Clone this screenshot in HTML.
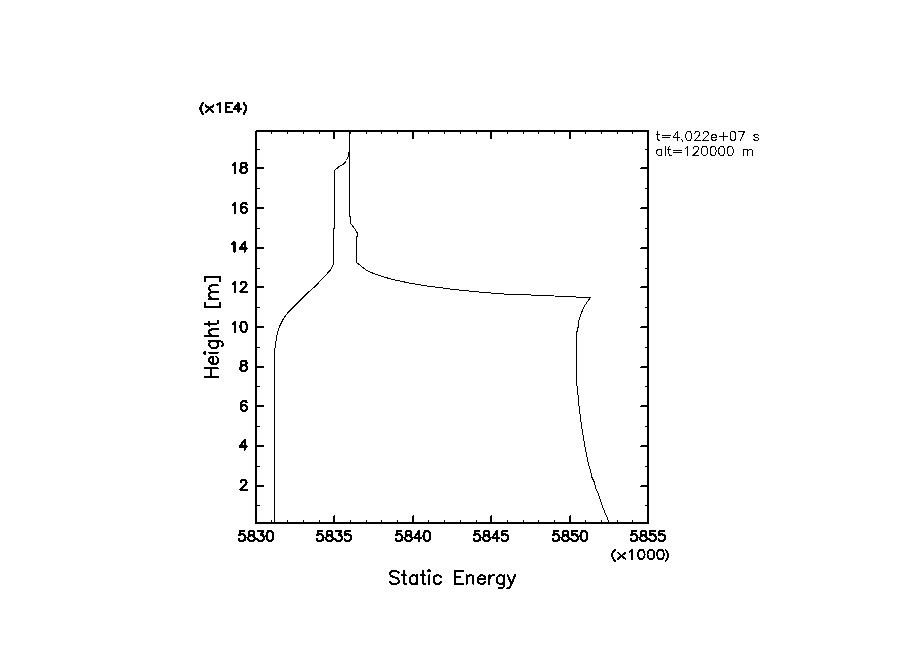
<!DOCTYPE html>
<html><head><meta charset="utf-8"><style>
html,body{margin:0;padding:0;background:#fff;}
body{width:904px;height:654px;overflow:hidden;position:relative;}
svg{position:absolute;left:0;top:0;}
text{font-family:"Liberation Sans",sans-serif;fill:#000;}
</style></head><body>
<svg width="904" height="654" viewBox="0 0 904 654">
<g fill="#000" shape-rendering="crispEdges">
<rect x="256" y="130" width="393" height="2"/>
<rect x="255" y="522" width="394" height="2"/>
<rect x="255" y="131" width="2" height="393"/>
<rect x="647" y="130" width="2" height="394"/>
<rect x="333" y="132" width="2" height="7"/>
<rect x="333" y="516" width="1" height="6"/>
<rect x="334" y="515" width="1" height="7"/>
<rect x="412" y="132" width="2" height="7"/>
<rect x="412" y="516" width="1" height="6"/>
<rect x="413" y="515" width="1" height="7"/>
<rect x="490" y="132" width="2" height="7"/>
<rect x="490" y="516" width="1" height="6"/>
<rect x="491" y="515" width="1" height="7"/>
<rect x="569" y="132" width="2" height="7"/>
<rect x="569" y="516" width="1" height="6"/>
<rect x="570" y="515" width="1" height="7"/>
<rect x="271" y="132" width="1" height="2"/>
<rect x="271" y="520" width="1" height="2"/>
<rect x="287" y="132" width="1" height="2"/>
<rect x="287" y="520" width="1" height="2"/>
<rect x="303" y="132" width="1" height="2"/>
<rect x="303" y="520" width="1" height="2"/>
<rect x="319" y="132" width="1" height="2"/>
<rect x="319" y="520" width="1" height="2"/>
<rect x="350" y="132" width="1" height="2"/>
<rect x="350" y="520" width="1" height="2"/>
<rect x="366" y="132" width="1" height="2"/>
<rect x="366" y="520" width="1" height="2"/>
<rect x="381" y="132" width="1" height="2"/>
<rect x="381" y="520" width="1" height="2"/>
<rect x="397" y="132" width="1" height="2"/>
<rect x="397" y="520" width="1" height="2"/>
<rect x="428" y="132" width="1" height="2"/>
<rect x="428" y="520" width="1" height="2"/>
<rect x="444" y="132" width="1" height="2"/>
<rect x="444" y="520" width="1" height="2"/>
<rect x="460" y="132" width="1" height="2"/>
<rect x="460" y="520" width="1" height="2"/>
<rect x="476" y="132" width="1" height="2"/>
<rect x="476" y="520" width="1" height="2"/>
<rect x="507" y="132" width="1" height="2"/>
<rect x="507" y="520" width="1" height="2"/>
<rect x="523" y="132" width="1" height="2"/>
<rect x="523" y="520" width="1" height="2"/>
<rect x="538" y="132" width="1" height="2"/>
<rect x="538" y="520" width="1" height="2"/>
<rect x="554" y="132" width="1" height="2"/>
<rect x="554" y="520" width="1" height="2"/>
<rect x="585" y="132" width="1" height="2"/>
<rect x="585" y="520" width="1" height="2"/>
<rect x="601" y="132" width="1" height="2"/>
<rect x="601" y="520" width="1" height="2"/>
<rect x="617" y="132" width="1" height="2"/>
<rect x="617" y="520" width="1" height="2"/>
<rect x="632" y="132" width="1" height="2"/>
<rect x="632" y="520" width="1" height="2"/>
<rect x="257" y="167" width="7" height="2"/>
<rect x="641" y="167" width="6" height="1"/>
<rect x="640" y="168" width="7" height="1"/>
<rect x="257" y="207" width="7" height="2"/>
<rect x="641" y="207" width="6" height="1"/>
<rect x="640" y="208" width="7" height="1"/>
<rect x="257" y="247" width="7" height="2"/>
<rect x="641" y="247" width="6" height="1"/>
<rect x="640" y="248" width="7" height="1"/>
<rect x="257" y="286" width="7" height="2"/>
<rect x="641" y="286" width="6" height="1"/>
<rect x="640" y="287" width="7" height="1"/>
<rect x="257" y="326" width="7" height="2"/>
<rect x="641" y="326" width="6" height="1"/>
<rect x="640" y="327" width="7" height="1"/>
<rect x="257" y="366" width="7" height="2"/>
<rect x="641" y="366" width="6" height="1"/>
<rect x="640" y="367" width="7" height="1"/>
<rect x="257" y="405" width="7" height="2"/>
<rect x="641" y="405" width="6" height="1"/>
<rect x="640" y="406" width="7" height="1"/>
<rect x="257" y="445" width="7" height="2"/>
<rect x="641" y="445" width="6" height="1"/>
<rect x="640" y="446" width="7" height="1"/>
<rect x="257" y="485" width="7" height="2"/>
<rect x="641" y="485" width="6" height="1"/>
<rect x="640" y="486" width="7" height="1"/>
<rect x="257" y="149" width="3" height="1"/>
<rect x="645" y="149" width="2" height="1"/>
<rect x="257" y="188" width="3" height="1"/>
<rect x="645" y="188" width="2" height="1"/>
<rect x="257" y="228" width="3" height="1"/>
<rect x="645" y="228" width="2" height="1"/>
<rect x="257" y="268" width="3" height="1"/>
<rect x="645" y="268" width="2" height="1"/>
<rect x="257" y="307" width="3" height="1"/>
<rect x="645" y="307" width="2" height="1"/>
<rect x="257" y="347" width="3" height="1"/>
<rect x="645" y="347" width="2" height="1"/>
<rect x="257" y="386" width="3" height="1"/>
<rect x="645" y="386" width="2" height="1"/>
<rect x="257" y="426" width="3" height="1"/>
<rect x="645" y="426" width="2" height="1"/>
<rect x="257" y="466" width="3" height="1"/>
<rect x="645" y="466" width="2" height="1"/>
<rect x="257" y="505" width="3" height="1"/>
<rect x="645" y="505" width="2" height="1"/>
</g>
<g fill="none" stroke="#000" stroke-width="1" shape-rendering="crispEdges">
<polyline points="274.5,523.0 274.5,352.0 275.5,345.0 276.5,337.0 277.6,332.0 279.7,326.1 282.6,320.3 285.5,315.6 289.7,310.6 299.4,300.9 309.5,291.2 315.3,286.2 325.7,275.2 330.5,270.0 332.5,266.5 333.5,264.0 333.5,228.5 334.5,228.0 334.5,170.5 338.0,167.5 340.7,165.5 343.0,164.5 345.0,162.5 346.5,160.5 347.5,158.0 348.5,156.5 348.5,153.0 349.5,152.0 349.5,131.0"/>
<polyline points="608.5,522.0 607.8,518.7 605.0,513.0 602.5,506.3 600.5,500.5 598.5,494.0 596.0,489.0 594.5,482.4 592.0,477.4 590.5,471.0 588.5,464.0 586.5,454.0 584.5,444.0 583.5,438.0 582.5,432.4 581.5,426.0 580.5,418.0 579.5,410.5 578.5,400.6 577.5,389.0 576.5,383.0 576.5,332.0 577.5,331.0 577.5,328.0 578.5,327.0 578.5,321.0 579.5,319.0 581.5,312.5 584.5,306.0 587.5,301.5 590.5,297.5 584.5,297.5 566.5,296.5 542.0,295.5 520.0,294.5 511.0,294.5 497.7,293.5 484.2,292.5 474.3,291.5 464.0,290.5 454.6,289.5 446.0,288.5 439.0,287.5 430.0,286.5 411.5,283.5 392.6,279.5 379.0,275.5 373.5,273.5 366.0,270.0 363.5,268.0 356.5,262.5 356.5,237.0 357.5,236.0 357.5,232.5 356.5,232.0 355.5,230.0 350.5,223.0 350.5,216.0 349.5,216.0 349.5,131.0"/>
</g>
<g fill="none" stroke="#000" stroke-linecap="round" stroke-linejoin="round" shape-rendering="crispEdges">
<path d="M232.64 164.81 L233.56 164.33 L234.94 162.90 L234.94 172.90 M242.76 162.90 L241.38 163.38 L240.92 164.33 L240.92 165.28 L241.38 166.24 L242.30 166.71 L244.14 167.19 L245.52 167.66 L246.44 168.62 L246.90 169.57 L246.90 171.00 L246.44 171.95 L245.98 172.42 L244.60 172.90 L242.76 172.90 L241.38 172.42 L240.92 171.95 L240.46 171.00 L240.46 169.57 L240.92 168.62 L241.84 167.66 L243.22 167.19 L245.06 166.71 L245.98 166.24 L246.44 165.28 L246.44 164.33 L245.98 163.38 L244.60 162.90 L242.76 162.90" stroke-width="2.2"/>
<path d="M232.64 204.81 L233.56 204.33 L234.94 202.90 L234.94 212.90 M246.44 204.33 L245.98 203.38 L244.60 202.90 L243.68 202.90 L242.30 203.38 L241.38 204.81 L240.92 207.19 L240.92 209.57 L241.38 211.47 L242.30 212.42 L243.68 212.90 L244.14 212.90 L245.52 212.42 L246.44 211.47 L246.90 210.04 L246.90 209.57 L246.44 208.14 L245.52 207.19 L244.14 206.71 L243.68 206.71 L242.30 207.19 L241.38 208.14 L240.92 209.57" stroke-width="2.2"/>
<path d="M232.18 243.81 L233.10 243.33 L234.48 241.90 L234.48 251.90 M244.60 241.90 L240.00 248.57 L246.90 248.57 M244.60 241.90 L244.60 251.90" stroke-width="2.2"/>
<path d="M232.64 283.81 L233.56 283.33 L234.94 281.90 L234.94 291.90 M240.92 284.28 L240.92 283.81 L241.38 282.86 L241.84 282.38 L242.76 281.90 L244.60 281.90 L245.52 282.38 L245.98 282.86 L246.44 283.81 L246.44 284.76 L245.98 285.71 L245.06 287.14 L240.46 291.90 L246.90 291.90" stroke-width="2.2"/>
<path d="M232.64 323.81 L233.56 323.33 L234.94 321.90 L234.94 331.90 M243.22 321.90 L241.84 322.38 L240.92 323.81 L240.46 326.19 L240.46 327.62 L240.92 330.00 L241.84 331.42 L243.22 331.90 L244.14 331.90 L245.52 331.42 L246.44 330.00 L246.90 327.62 L246.90 326.19 L246.44 323.81 L245.52 322.38 L244.14 321.90 L243.22 321.90" stroke-width="2.2"/>
<path d="M242.76 360.90 L241.38 361.38 L240.92 362.33 L240.92 363.28 L241.38 364.24 L242.30 364.71 L244.14 365.19 L245.52 365.66 L246.44 366.62 L246.90 367.57 L246.90 369.00 L246.44 369.95 L245.98 370.42 L244.60 370.90 L242.76 370.90 L241.38 370.42 L240.92 369.95 L240.46 369.00 L240.46 367.57 L240.92 366.62 L241.84 365.66 L243.22 365.19 L245.06 364.71 L245.98 364.24 L246.44 363.28 L246.44 362.33 L245.98 361.38 L244.60 360.90 L242.76 360.90" stroke-width="2.2"/>
<path d="M246.44 402.33 L245.98 401.38 L244.60 400.90 L243.68 400.90 L242.30 401.38 L241.38 402.81 L240.92 405.19 L240.92 407.57 L241.38 409.47 L242.30 410.42 L243.68 410.90 L244.14 410.90 L245.52 410.42 L246.44 409.47 L246.90 408.04 L246.90 407.57 L246.44 406.14 L245.52 405.19 L244.14 404.71 L243.68 404.71 L242.30 405.19 L241.38 406.14 L240.92 407.57" stroke-width="2.2"/>
<path d="M244.60 439.90 L240.00 446.57 L246.90 446.57 M244.60 439.90 L244.60 449.90" stroke-width="2.2"/>
<path d="M240.92 482.28 L240.92 481.81 L241.38 480.86 L241.84 480.38 L242.76 479.90 L244.60 479.90 L245.52 480.38 L245.98 480.86 L246.44 481.81 L246.44 482.76 L245.98 483.71 L245.06 485.14 L240.46 489.90 L246.90 489.90" stroke-width="2.2"/>
<path d="M244.50 531.00 L239.90 531.00 L239.44 535.29 L239.90 534.81 L241.28 534.34 L242.66 534.34 L244.04 534.81 L244.96 535.76 L245.42 537.19 L245.42 538.14 L244.96 539.57 L244.04 540.52 L242.66 541.00 L241.28 541.00 L239.90 540.52 L239.44 540.05 L238.98 539.10 M250.48 531.00 L249.10 531.48 L248.64 532.43 L248.64 533.38 L249.10 534.34 L250.02 534.81 L251.86 535.29 L253.24 535.76 L254.16 536.72 L254.62 537.67 L254.62 539.10 L254.16 540.05 L253.70 540.52 L252.32 541.00 L250.48 541.00 L249.10 540.52 L248.64 540.05 L248.18 539.10 L248.18 537.67 L248.64 536.72 L249.56 535.76 L250.94 535.29 L252.78 534.81 L253.70 534.34 L254.16 533.38 L254.16 532.43 L253.70 531.48 L252.32 531.00 L250.48 531.00 M258.30 531.00 L263.36 531.00 L260.60 534.81 L261.98 534.81 L262.90 535.29 L263.36 535.76 L263.82 537.19 L263.82 538.14 L263.36 539.57 L262.44 540.52 L261.06 541.00 L259.68 541.00 L258.30 540.52 L257.84 540.05 L257.38 539.10 M269.34 531.00 L267.96 531.48 L267.04 532.91 L266.58 535.29 L266.58 536.72 L267.04 539.10 L267.96 540.52 L269.34 541.00 L270.26 541.00 L271.64 540.52 L272.56 539.10 L273.02 536.72 L273.02 535.29 L272.56 532.91 L271.64 531.48 L270.26 531.00 L269.34 531.00" stroke-width="2.2"/>
<path d="M322.50 531.00 L317.90 531.00 L317.44 535.29 L317.90 534.81 L319.28 534.34 L320.66 534.34 L322.04 534.81 L322.96 535.76 L323.42 537.19 L323.42 538.14 L322.96 539.57 L322.04 540.52 L320.66 541.00 L319.28 541.00 L317.90 540.52 L317.44 540.05 L316.98 539.10 M328.48 531.00 L327.10 531.48 L326.64 532.43 L326.64 533.38 L327.10 534.34 L328.02 534.81 L329.86 535.29 L331.24 535.76 L332.16 536.72 L332.62 537.67 L332.62 539.10 L332.16 540.05 L331.70 540.52 L330.32 541.00 L328.48 541.00 L327.10 540.52 L326.64 540.05 L326.18 539.10 L326.18 537.67 L326.64 536.72 L327.56 535.76 L328.94 535.29 L330.78 534.81 L331.70 534.34 L332.16 533.38 L332.16 532.43 L331.70 531.48 L330.32 531.00 L328.48 531.00 M336.30 531.00 L341.36 531.00 L338.60 534.81 L339.98 534.81 L340.90 535.29 L341.36 535.76 L341.82 537.19 L341.82 538.14 L341.36 539.57 L340.44 540.52 L339.06 541.00 L337.68 541.00 L336.30 540.52 L335.84 540.05 L335.38 539.10 M350.10 531.00 L345.50 531.00 L345.04 535.29 L345.50 534.81 L346.88 534.34 L348.26 534.34 L349.64 534.81 L350.56 535.76 L351.02 537.19 L351.02 538.14 L350.56 539.57 L349.64 540.52 L348.26 541.00 L346.88 541.00 L345.50 540.52 L345.04 540.05 L344.58 539.10" stroke-width="2.2"/>
<path d="M401.50 531.00 L396.90 531.00 L396.44 535.29 L396.90 534.81 L398.28 534.34 L399.66 534.34 L401.04 534.81 L401.96 535.76 L402.42 537.19 L402.42 538.14 L401.96 539.57 L401.04 540.52 L399.66 541.00 L398.28 541.00 L396.90 540.52 L396.44 540.05 L395.98 539.10 M407.48 531.00 L406.10 531.48 L405.64 532.43 L405.64 533.38 L406.10 534.34 L407.02 534.81 L408.86 535.29 L410.24 535.76 L411.16 536.72 L411.62 537.67 L411.62 539.10 L411.16 540.05 L410.70 540.52 L409.32 541.00 L407.48 541.00 L406.10 540.52 L405.64 540.05 L405.18 539.10 L405.18 537.67 L405.64 536.72 L406.56 535.76 L407.94 535.29 L409.78 534.81 L410.70 534.34 L411.16 533.38 L411.16 532.43 L410.70 531.48 L409.32 531.00 L407.48 531.00 M418.98 531.00 L414.38 537.67 L421.28 537.67 M418.98 531.00 L418.98 541.00 M426.34 531.00 L424.96 531.48 L424.04 532.91 L423.58 535.29 L423.58 536.72 L424.04 539.10 L424.96 540.52 L426.34 541.00 L427.26 541.00 L428.64 540.52 L429.56 539.10 L430.02 536.72 L430.02 535.29 L429.56 532.91 L428.64 531.48 L427.26 531.00 L426.34 531.00" stroke-width="2.2"/>
<path d="M479.50 531.00 L474.90 531.00 L474.44 535.29 L474.90 534.81 L476.28 534.34 L477.66 534.34 L479.04 534.81 L479.96 535.76 L480.42 537.19 L480.42 538.14 L479.96 539.57 L479.04 540.52 L477.66 541.00 L476.28 541.00 L474.90 540.52 L474.44 540.05 L473.98 539.10 M485.48 531.00 L484.10 531.48 L483.64 532.43 L483.64 533.38 L484.10 534.34 L485.02 534.81 L486.86 535.29 L488.24 535.76 L489.16 536.72 L489.62 537.67 L489.62 539.10 L489.16 540.05 L488.70 540.52 L487.32 541.00 L485.48 541.00 L484.10 540.52 L483.64 540.05 L483.18 539.10 L483.18 537.67 L483.64 536.72 L484.56 535.76 L485.94 535.29 L487.78 534.81 L488.70 534.34 L489.16 533.38 L489.16 532.43 L488.70 531.48 L487.32 531.00 L485.48 531.00 M496.98 531.00 L492.38 537.67 L499.28 537.67 M496.98 531.00 L496.98 541.00 M507.10 531.00 L502.50 531.00 L502.04 535.29 L502.50 534.81 L503.88 534.34 L505.26 534.34 L506.64 534.81 L507.56 535.76 L508.02 537.19 L508.02 538.14 L507.56 539.57 L506.64 540.52 L505.26 541.00 L503.88 541.00 L502.50 540.52 L502.04 540.05 L501.58 539.10" stroke-width="2.2"/>
<path d="M558.50 531.00 L553.90 531.00 L553.44 535.29 L553.90 534.81 L555.28 534.34 L556.66 534.34 L558.04 534.81 L558.96 535.76 L559.42 537.19 L559.42 538.14 L558.96 539.57 L558.04 540.52 L556.66 541.00 L555.28 541.00 L553.90 540.52 L553.44 540.05 L552.98 539.10 M564.48 531.00 L563.10 531.48 L562.64 532.43 L562.64 533.38 L563.10 534.34 L564.02 534.81 L565.86 535.29 L567.24 535.76 L568.16 536.72 L568.62 537.67 L568.62 539.10 L568.16 540.05 L567.70 540.52 L566.32 541.00 L564.48 541.00 L563.10 540.52 L562.64 540.05 L562.18 539.10 L562.18 537.67 L562.64 536.72 L563.56 535.76 L564.94 535.29 L566.78 534.81 L567.70 534.34 L568.16 533.38 L568.16 532.43 L567.70 531.48 L566.32 531.00 L564.48 531.00 M576.90 531.00 L572.30 531.00 L571.84 535.29 L572.30 534.81 L573.68 534.34 L575.06 534.34 L576.44 534.81 L577.36 535.76 L577.82 537.19 L577.82 538.14 L577.36 539.57 L576.44 540.52 L575.06 541.00 L573.68 541.00 L572.30 540.52 L571.84 540.05 L571.38 539.10 M583.34 531.00 L581.96 531.48 L581.04 532.91 L580.58 535.29 L580.58 536.72 L581.04 539.10 L581.96 540.52 L583.34 541.00 L584.26 541.00 L585.64 540.52 L586.56 539.10 L587.02 536.72 L587.02 535.29 L586.56 532.91 L585.64 531.48 L584.26 531.00 L583.34 531.00" stroke-width="2.2"/>
<path d="M636.50 531.00 L631.90 531.00 L631.44 535.29 L631.90 534.81 L633.28 534.34 L634.66 534.34 L636.04 534.81 L636.96 535.76 L637.42 537.19 L637.42 538.14 L636.96 539.57 L636.04 540.52 L634.66 541.00 L633.28 541.00 L631.90 540.52 L631.44 540.05 L630.98 539.10 M642.48 531.00 L641.10 531.48 L640.64 532.43 L640.64 533.38 L641.10 534.34 L642.02 534.81 L643.86 535.29 L645.24 535.76 L646.16 536.72 L646.62 537.67 L646.62 539.10 L646.16 540.05 L645.70 540.52 L644.32 541.00 L642.48 541.00 L641.10 540.52 L640.64 540.05 L640.18 539.10 L640.18 537.67 L640.64 536.72 L641.56 535.76 L642.94 535.29 L644.78 534.81 L645.70 534.34 L646.16 533.38 L646.16 532.43 L645.70 531.48 L644.32 531.00 L642.48 531.00 M654.90 531.00 L650.30 531.00 L649.84 535.29 L650.30 534.81 L651.68 534.34 L653.06 534.34 L654.44 534.81 L655.36 535.76 L655.82 537.19 L655.82 538.14 L655.36 539.57 L654.44 540.52 L653.06 541.00 L651.68 541.00 L650.30 540.52 L649.84 540.05 L649.38 539.10 M664.10 531.00 L659.50 531.00 L659.04 535.29 L659.50 534.81 L660.88 534.34 L662.26 534.34 L663.64 534.81 L664.56 535.76 L665.02 537.19 L665.02 538.14 L664.56 539.57 L663.64 540.52 L662.26 541.00 L660.88 541.00 L659.50 540.52 L659.04 540.05 L658.58 539.10" stroke-width="2.2"/>
<path d="M203.10 102.97 L201.72 104.69 L200.57 106.84 L200.57 109.85 L201.72 112.00 L203.10 113.94 M205.86 105.55 L213.22 112.00 M213.22 105.55 L205.86 112.00 M217.36 104.69 L218.28 104.26 L219.66 102.97 L219.66 112.00 M225.64 102.97 L225.64 112.00 M225.64 102.97 L231.62 102.97 M225.64 107.27 L229.32 107.27 M225.64 112.00 L231.62 112.00 M238.52 102.97 L233.92 108.99 L240.82 108.99 M238.52 102.97 L238.52 112.00 M243.58 102.97 L244.96 104.69 L246.11 106.84 L246.11 109.85 L244.96 112.00 L243.58 113.94" stroke-width="2.2"/>
<path d="M614.90 549.90 L613.46 551.65 L612.26 553.84 L612.26 556.91 L613.46 559.10 L614.90 561.07 M617.78 552.53 L625.46 559.10 M625.46 552.53 L617.78 559.10 M629.78 551.65 L630.74 551.22 L632.18 549.90 L632.18 559.10 M640.82 549.90 L639.38 550.34 L638.42 551.65 L637.94 553.84 L637.94 555.16 L638.42 557.35 L639.38 558.66 L640.82 559.10 L641.78 559.10 L643.22 558.66 L644.18 557.35 L644.66 555.16 L644.66 553.84 L644.18 551.65 L643.22 550.34 L641.78 549.90 L640.82 549.90 M650.42 549.90 L648.98 550.34 L648.02 551.65 L647.54 553.84 L647.54 555.16 L648.02 557.35 L648.98 558.66 L650.42 559.10 L651.38 559.10 L652.82 558.66 L653.78 557.35 L654.26 555.16 L654.26 553.84 L653.78 551.65 L652.82 550.34 L651.38 549.90 L650.42 549.90 M660.02 549.90 L658.58 550.34 L657.62 551.65 L657.14 553.84 L657.14 555.16 L657.62 557.35 L658.58 558.66 L660.02 559.10 L660.98 559.10 L662.42 558.66 L663.38 557.35 L663.86 555.16 L663.86 553.84 L663.38 551.65 L662.42 550.34 L660.98 549.90 L660.02 549.90 M665.54 549.90 L666.98 551.65 L668.18 553.84 L668.18 556.91 L666.98 559.10 L665.54 561.07" stroke-width="1.8"/>
<path d="M398.62 572.86 L397.39 571.62 L395.56 571.00 L393.10 571.00 L391.26 571.62 L390.04 572.86 L390.04 574.10 L390.65 575.33 L391.26 575.95 L392.49 576.57 L396.17 577.81 L397.39 578.43 L398.01 579.05 L398.62 580.29 L398.62 582.14 L397.39 583.38 L395.56 584.00 L393.10 584.00 L391.26 583.38 L390.04 582.14 M403.83 571.00 L403.52 572.86 L403.52 581.52 L404.14 583.38 L405.36 584.00 L406.59 584.00 M401.69 575.33 L405.98 575.33 M417.01 575.33 L417.01 584.00 M417.01 577.19 L415.78 575.95 L414.56 575.33 L412.72 575.33 L411.49 575.95 L410.27 577.19 L409.65 579.05 L409.65 580.29 L410.27 582.14 L411.49 583.38 L412.72 584.00 L414.56 584.00 L415.78 583.38 L417.01 582.14 M422.83 571.00 L422.53 572.86 L422.53 581.52 L423.14 583.38 L424.37 584.00 L425.59 584.00 M420.69 575.33 L424.98 575.33 M428.04 571.31 L429.27 570.07 L430.19 571.31 L428.04 571.31 M429.27 575.33 L429.27 584.00 M440.92 577.19 L439.69 575.95 L438.47 575.33 L436.63 575.33 L435.40 575.95 L434.18 577.19 L433.56 579.05 L433.56 580.29 L434.18 582.14 L435.40 583.38 L436.63 584.00 L438.47 584.00 L439.69 583.38 L440.92 582.14 M455.02 571.00 L455.02 584.00 M455.02 571.00 L462.99 571.00 M455.02 577.19 L459.92 577.19 M455.02 584.00 L462.99 584.00 M466.66 575.33 L466.66 584.00 M466.66 577.81 L468.50 575.95 L469.73 575.33 L471.57 575.33 L472.79 575.95 L473.41 577.81 L473.41 584.00 M477.70 579.05 L485.05 579.05 L485.05 577.81 L484.44 576.57 L483.83 575.95 L482.60 575.33 L480.76 575.33 L479.54 575.95 L478.31 577.19 L477.70 579.05 L477.70 580.29 L478.31 582.14 L479.54 583.38 L480.76 584.00 L482.60 584.00 L483.83 583.38 L485.05 582.14 M489.34 575.33 L489.34 584.00 M489.34 579.05 L489.96 577.19 L491.18 575.95 L492.41 575.33 L494.25 575.33 M504.06 575.33 L504.06 585.24 L503.44 587.10 L502.83 587.71 L501.61 588.33 L499.77 588.33 L498.54 587.71 M504.06 577.19 L502.83 575.95 L501.61 575.33 L499.77 575.33 L498.54 575.95 L497.31 577.19 L496.70 579.05 L496.70 580.29 L497.31 582.14 L498.54 583.38 L499.77 584.00 L501.61 584.00 L502.83 583.38 L504.06 582.14 M507.74 575.33 L511.41 584.00 M515.09 575.33 L511.41 584.00 L510.19 586.48 L508.96 587.71 L507.74 588.33 L507.12 588.33" stroke-width="2.0"/>
<path d="M2.44 -13.44 L2.44 0.00 M10.98 -13.44 L10.98 0.00 M2.44 -7.04 L10.98 -7.04 M15.25 -5.12 L22.57 -5.12 L22.57 -6.40 L21.96 -7.68 L21.35 -8.32 L20.13 -8.96 L18.30 -8.96 L17.08 -8.32 L15.86 -7.04 L15.25 -5.12 L15.25 -3.84 L15.86 -1.92 L17.08 -0.64 L18.30 0.00 L20.13 0.00 L21.35 -0.64 L22.57 -1.92 M25.62 -13.12 L26.84 -14.40 L27.75 -13.12 L25.62 -13.12 M26.84 -8.96 L26.84 0.00 M38.43 -8.96 L38.43 1.28 L37.82 3.20 L37.21 3.84 L35.99 4.48 L34.16 4.48 L32.94 3.84 M38.43 -7.04 L37.21 -8.32 L35.99 -8.96 L34.16 -8.96 L32.94 -8.32 L31.72 -7.04 L31.11 -5.12 L31.11 -3.84 L31.72 -1.92 L32.94 -0.64 L34.16 0.00 L35.99 0.00 L37.21 -0.64 L38.43 -1.92 M43.31 -13.44 L43.31 0.00 M43.31 -6.40 L45.14 -8.32 L46.36 -8.96 L48.19 -8.96 L49.41 -8.32 L50.02 -6.40 L50.02 0.00 M55.81 -13.44 L55.51 -11.52 L55.51 -2.56 L56.12 -0.64 L57.34 0.00 L58.56 0.00 M53.68 -8.96 L57.95 -8.96 M76.25 -12.93 L71.98 -12.93 L71.98 1.79 L76.25 1.79 M80.52 -8.96 L80.52 0.00 M80.52 -6.40 L82.35 -8.32 L83.57 -8.96 L85.40 -8.96 L86.62 -8.32 L87.23 -6.40 L87.23 0.00 M87.23 -6.40 L89.06 -8.32 L90.28 -8.96 L92.11 -8.96 L93.33 -8.32 L93.94 -6.40 L93.94 0.00 M98.21 -12.93 L102.48 -12.93 L102.48 1.79 L98.21 1.79" stroke-width="2.0" transform="translate(218.2,379.4) rotate(-90)"/>
<path d="M657.99 131.47 L657.77 132.76 L657.77 138.78 L658.20 140.07 L659.05 140.50 L659.90 140.50 M656.50 134.48 L659.48 134.48 M662.45 135.34 L670.10 135.34 M662.45 137.92 L670.10 137.92 M677.32 131.47 L673.07 137.49 L679.45 137.49 M677.32 131.47 L677.32 140.50 M681.79 139.64 L682.64 141.15 M688.38 131.47 L687.10 131.90 L686.25 133.19 L685.82 135.34 L685.82 136.63 L686.25 138.78 L687.10 140.07 L688.38 140.50 L689.23 140.50 L690.50 140.07 L691.35 138.78 L691.77 136.63 L691.77 135.34 L691.35 133.19 L690.50 131.90 L689.23 131.47 L688.38 131.47 M694.75 133.62 L694.75 133.19 L695.17 132.33 L695.60 131.90 L696.45 131.47 L698.15 131.47 L699.00 131.90 L699.42 132.33 L699.85 133.19 L699.85 134.05 L699.42 134.91 L698.57 136.20 L694.32 140.50 L700.27 140.50 M703.25 133.62 L703.25 133.19 L703.67 132.33 L704.10 131.90 L704.95 131.47 L706.65 131.47 L707.50 131.90 L707.92 132.33 L708.35 133.19 L708.35 134.05 L707.92 134.91 L707.07 136.20 L702.82 140.50 L708.77 140.50 M711.32 137.06 L716.42 137.06 L716.42 136.20 L716.00 135.34 L715.57 134.91 L714.73 134.48 L713.45 134.48 L712.60 134.91 L711.75 135.77 L711.32 137.06 L711.32 137.92 L711.75 139.21 L712.60 140.07 L713.45 140.50 L714.73 140.50 L715.57 140.07 L716.42 139.21 M723.23 132.76 L723.23 140.50 M719.40 136.63 L727.05 136.63 M732.57 131.47 L731.30 131.90 L730.45 133.19 L730.02 135.34 L730.02 136.63 L730.45 138.78 L731.30 140.07 L732.57 140.50 L733.42 140.50 L734.70 140.07 L735.55 138.78 L735.98 136.63 L735.98 135.34 L735.55 133.19 L734.70 131.90 L733.42 131.47 L732.57 131.47 M744.48 131.47 L740.23 140.50 M738.52 131.47 L744.48 131.47 M758.50 135.77 L758.07 134.91 L756.80 134.48 L755.52 134.48 L754.25 134.91 L753.82 135.77 L754.25 136.63 L755.10 137.06 L757.23 137.49 L758.07 137.92 L758.50 138.78 L758.50 139.21 L758.07 140.07 L756.80 140.50 L755.52 140.50 L754.25 140.07 L753.82 139.21" stroke-width="1.0"/>
<path d="M661.63 149.48 L661.63 155.50 M661.63 150.77 L660.77 149.91 L659.91 149.48 L658.63 149.48 L657.77 149.91 L656.91 150.77 L656.49 152.06 L656.49 152.92 L656.91 154.21 L657.77 155.07 L658.63 155.50 L659.91 155.50 L660.77 155.07 L661.63 154.21 M665.06 146.47 L665.06 155.50 M669.13 146.47 L668.92 147.76 L668.92 153.78 L669.34 155.07 L670.20 155.50 L671.06 155.50 M667.63 149.48 L670.63 149.48 M673.63 150.34 L681.34 150.34 M673.63 152.92 L681.34 152.92 M685.63 148.19 L686.49 147.76 L687.77 146.47 L687.77 155.50 M693.35 148.62 L693.35 148.19 L693.77 147.33 L694.20 146.90 L695.06 146.47 L696.77 146.47 L697.63 146.90 L698.06 147.33 L698.49 148.19 L698.49 149.05 L698.06 149.91 L697.20 151.20 L692.92 155.50 L698.92 155.50 M704.06 146.47 L702.77 146.90 L701.92 148.19 L701.49 150.34 L701.49 151.63 L701.92 153.78 L702.77 155.07 L704.06 155.50 L704.92 155.50 L706.20 155.07 L707.06 153.78 L707.49 151.63 L707.49 150.34 L707.06 148.19 L706.20 146.90 L704.92 146.47 L704.06 146.47 M712.63 146.47 L711.35 146.90 L710.49 148.19 L710.06 150.34 L710.06 151.63 L710.49 153.78 L711.35 155.07 L712.63 155.50 L713.49 155.50 L714.78 155.07 L715.63 153.78 L716.06 151.63 L716.06 150.34 L715.63 148.19 L714.78 146.90 L713.49 146.47 L712.63 146.47 M721.20 146.47 L719.92 146.90 L719.06 148.19 L718.63 150.34 L718.63 151.63 L719.06 153.78 L719.92 155.07 L721.20 155.50 L722.06 155.50 L723.35 155.07 L724.20 153.78 L724.63 151.63 L724.63 150.34 L724.20 148.19 L723.35 146.90 L722.06 146.47 L721.20 146.47 M729.78 146.47 L728.49 146.90 L727.63 148.19 L727.20 150.34 L727.20 151.63 L727.63 153.78 L728.49 155.07 L729.78 155.50 L730.63 155.50 L731.92 155.07 L732.78 153.78 L733.21 151.63 L733.21 150.34 L732.78 148.19 L731.92 146.90 L730.63 146.47 L729.78 146.47 M743.06 149.48 L743.06 155.50 M743.06 151.20 L744.35 149.91 L745.21 149.48 L746.49 149.48 L747.35 149.91 L747.78 151.20 L747.78 155.50 M747.78 151.20 L749.06 149.91 L749.92 149.48 L751.21 149.48 L752.06 149.91 L752.49 151.20 L752.49 155.50" stroke-width="1.0"/>
</g>
</svg>
</body></html>
